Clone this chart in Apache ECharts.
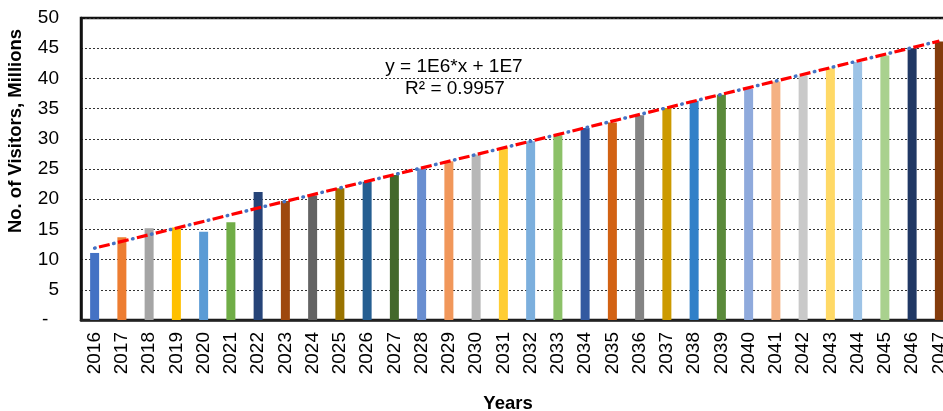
<!DOCTYPE html>
<html>
<head>
<meta charset="utf-8">
<script src="https://cdn.jsdelivr.net/npm/echarts@6/dist/echarts.min.js"></script>
<style>html,body{margin:0;padding:0;background:#fff;}#c{width:943px;height:411px;}</style>
</head>
<body>
<div id="c"></div>
<script>
const years = ['2016','2017','2018','2019','2020','2021','2022','2023','2024','2025','2026','2027','2028','2029','2030','2031','2032','2033','2034','2035','2036','2037','2038','2039','2040','2041','2042','2043','2044','2045','2046','2047'];
const visitors = [11.1,13.7,15.2,15.3,14.6,16.2,21.2,19.7,20.6,21.8,22.9,24.0,25.1,26.3,27.4,28.5,29.6,30.6,31.8,32.7,33.9,35.1,36.3,37.3,38.3,39.5,40.5,41.7,42.7,43.8,45.0,46.1];
const barColors = ['#4472C4','#ED7D31','#A5A5A5','#FFC000','#5B9BD5','#70AD47','#264478','#9E480E','#636363','#997300','#255E91','#43682B','#698ED0','#F1975A','#B7B7B7','#FFCD33','#7CAFDD','#8CC168','#3359A0','#D26213','#848484','#CC9A00','#3180C8','#5A8A3A','#8FAADC','#F4B183','#C9C9C9','#FFD966','#9DC3E6','#A9D18E','#203864','#843C0C'];
const trendEnds = [11.9, 46.2];
const yTicks = [0,5,10,15,20,25,30,35,40,45,50];
const equationText = ['y = 1E6*x + 1E7', 'R² = 0.9957'];

const trendData = years.map((y, i) => i === 0 ? trendEnds[0] : (i === years.length - 1 ? trendEnds[1] : null));
const FONT = '"Liberation Sans", Arial, Helvetica, sans-serif';

const chart = echarts.init(document.getElementById('c'), null, {renderer: 'canvas'});
chart.setOption({
  animation: false,
  backgroundColor: '#fff',
  grid: {left: 81, top: 18, width: 872, height: 302, show: true, borderColor: '#111', borderWidth: 2.5, containLabel: false, outerBoundsMode: 'none'},
  xAxis: {
    type: 'category',
    data: years,
    boundaryGap: true,
    axisLine: {lineStyle: {color: '#222', width: 2.5}},
    axisTick: {show: false},
    axisLabel: {rotate: 90, margin: 12, fontSize: 19, color: '#000', fontFamily: FONT, interval: 0}
  },
  yAxis: {
    type: 'value',
    min: yTicks[0],
    max: yTicks[yTicks.length - 1],
    interval: 5,
    axisLine: {show: true, lineStyle: {color: '#111', width: 2.5}},
    axisTick: {show: false},
    axisLabel: {margin: 22, fontSize: 19, color: '#000', fontFamily: FONT,
      formatter: v => v === 0 ? '-  ' : String(v)},
    splitLine: {show: true, lineStyle: {color: '#333', width: 1, type: [2, 2]}}
  },
  series: [
    {
      type: 'bar',
      barWidth: 9,
      data: visitors.map((v, i) => ({value: v, itemStyle: {color: barColors[i]}})),
      z: 2
    },
    {
      type: 'line',
      data: trendData,
      connectNulls: true,
      symbol: 'none',
      lineStyle: {color: '#4472C4', width: 3.5, type: [0.5, 19], cap: 'round', dashOffset: 0},
      z: 3
    },
    {
      type: 'line',
      data: trendData,
      connectNulls: true,
      symbol: 'none',
      lineStyle: {color: '#FF0000', width: 3.2, type: [11, 8.5], dashOffset: -4.5},
      z: 4
    }
  ],
  graphic: [
    {type: 'text', x: 16, y: 131, rotation: Math.PI / 2,
      style: {text: 'No. of Visitors, Millions', font: 'bold 18.5px ' + FONT, fill: '#000', textAlign: 'center', textVerticalAlign: 'middle'}},
    {type: 'text', x: 508, y: 404,
      style: {text: 'Years', font: 'bold 18.5px ' + FONT, fill: '#000', textAlign: 'center', textVerticalAlign: 'middle'}},
    {type: 'text', x: 454, y: 67,
      style: {text: equationText[0], font: '19px ' + FONT, fill: '#000', textAlign: 'center', textVerticalAlign: 'middle'}},
    {type: 'text', x: 455, y: 88.5,
      style: {text: equationText[1], font: '19px ' + FONT, fill: '#000', textAlign: 'center', textVerticalAlign: 'middle'}}
  ]
});
</script>
</body>
</html>
